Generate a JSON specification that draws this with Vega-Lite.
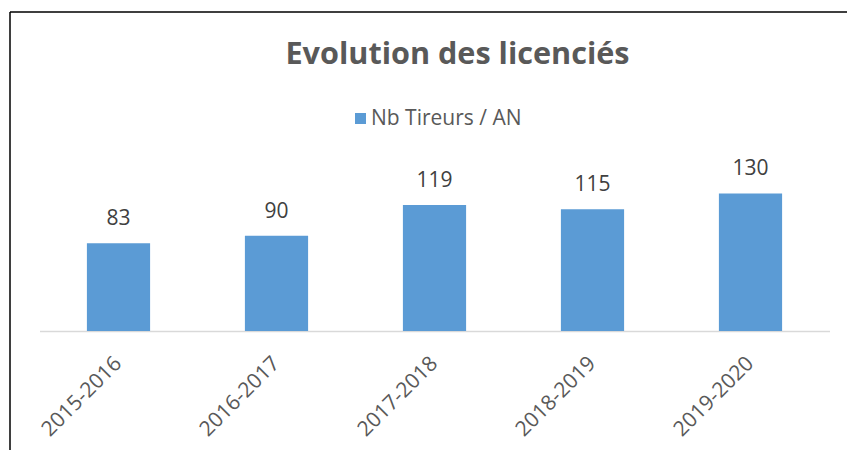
{
  "$schema": "https://vega.github.io/schema/vega-lite/v6.json",
  "autosize": {"type": "none"},
  "padding": {"left": 10, "top": 12, "right": 0, "bottom": 0},
  "width": 837,
  "height": 438,
  "background": "white",
  "view": {"stroke": "#000000", "strokeWidth": 1.5, "strokeDash": [837, 1275, 438, 0], "strokeCap": "butt"},
  "config": {
    "font": "Open Sans"
  },
  "title": {
    "text": "Evolution des licenciés",
    "font": "Open Sans",
    "fontSize": 30.6,
    "fontWeight": "bold",
    "color": "#595959",
    "anchor": "middle",
    "frame": "group",
    "baseline": "alphabetic",
    "offset": 0,
    "dx": 29,
    "dy": 83
  },
  "data": {
    "values": [
      {"saison": "2015-2016", "nb": 83, "serie": "Nb Tireurs / AN"},
      {"saison": "2016-2017", "nb": 90, "serie": "Nb Tireurs / AN"},
      {"saison": "2017-2018", "nb": 119, "serie": "Nb Tireurs / AN"},
      {"saison": "2018-2019", "nb": 115, "serie": "Nb Tireurs / AN"},
      {"saison": "2019-2020", "nb": 130, "serie": "Nb Tireurs / AN"}
    ]
  },
  "encoding": {
    "x": {
      "field": "saison",
      "type": "nominal",
      "sort": null,
      "scale": {"range": [29.5, 819.5], "paddingInner": 0.6, "paddingOuter": 0.3},
      "axis": {
        "title": null,
        "orient": "bottom",
        "offset": -119,
        "domainColor": "#D9D9D9",
        "domainWidth": 1.5,
        "ticks": false,
        "labelAngle": -45,
        "labelAlign": "right",
        "labelBaseline": "middle",
        "labelPadding": 29,
        "labelFont": "Open Sans",
        "labelFontSize": 21,
        "labelColor": "#595959"
      }
    },
    "y": {
      "field": "nb",
      "type": "quantitative",
      "scale": {"domain": [0, 160], "range": [319, 149.7], "nice": false},
      "axis": null
    }
  },
  "layer": [
    {
      "mark": {"type": "bar", "color": "#5B9BD5"},
      "encoding": {
        "color": {
          "field": "serie",
          "type": "nominal",
          "scale": {"range": ["#5B9BD5"]},
          "legend": {
            "title": null,
            "orient": "none",
            "legendX": 340,
            "legendY": 96,
            "symbolType": "square",
            "symbolSize": 121,
            "symbolStrokeWidth": 0,
            "labelFont": "Open Sans",
            "labelFontSize": 21,
            "labelColor": "#595959",
            "labelOffset": 0
          }
        }
      }
    },
    {
      "mark": {"type": "text", "baseline": "alphabetic", "dy": -18, "font": "Open Sans", "fontSize": 21, "color": "#404040"},
      "encoding": {"text": {"field": "nb", "type": "quantitative"}}
    }
  ]
}
